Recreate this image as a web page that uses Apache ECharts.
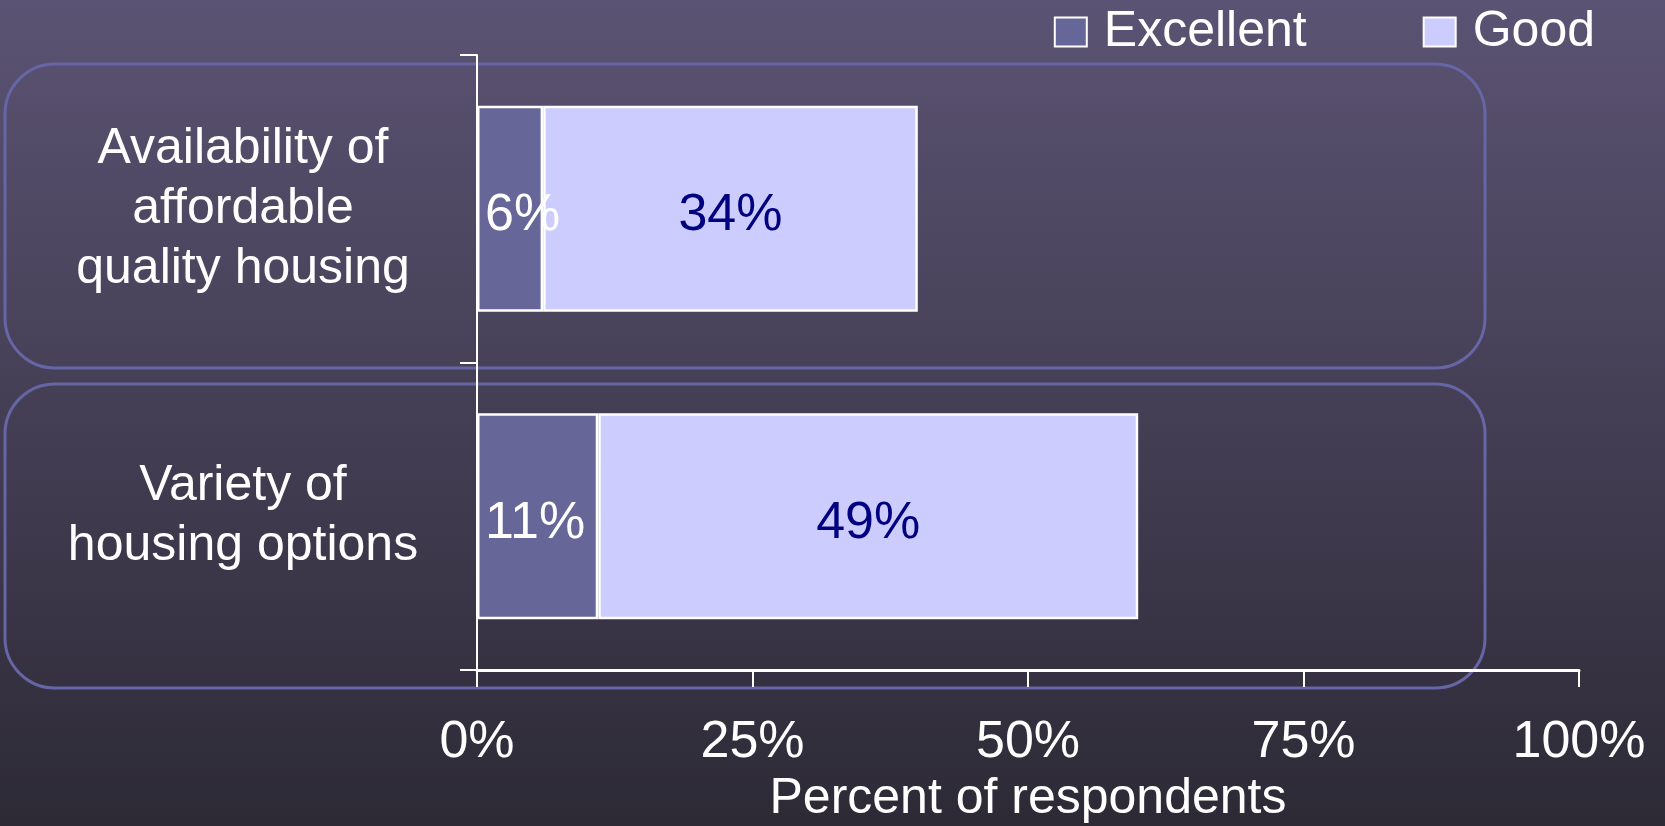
<!DOCTYPE html>
<html>
<head>
<meta charset="utf-8">
<script src="https://cdn.jsdelivr.net/npm/echarts@6/dist/echarts.min.js"></script>
<style>
html,body{margin:0;padding:0;width:1665px;height:826px;overflow:hidden;background:#46405a;}
#chart{width:1665px;height:826px;}
</style>
</head>
<body>
<div id="chart"></div>
<script>
const categories = ['Availability of\naffordable\nquality housing', 'Variety of\nhousing options'];
const seriesNames = ['Excellent', 'Good'];
const excellent = [6, 11];
const good = [34, 49];
const xTickValues = [0, 25, 50, 75, 100];

const FONT = "'Liberation Sans', Arial, sans-serif";
const chart = echarts.init(document.getElementById('chart'), null, {renderer: 'canvas'});

const option = {
  backgroundColor: {
    type: 'linear', x: 0, y: 0, x2: 0, y2: 1,
    colorStops: [
      {offset: 0, color: '#5b5373'},
      {offset: 1, color: '#2d2a36'}
    ]
  },
  animation: false,
  textStyle: {fontFamily: FONT},
  graphic: [
    {type: 'rect', z: -10, silent: true,
     shape: {x: 5, y: 64, width: 1480, height: 304, r: 50},
     style: {fill: 'none', stroke: '#6666a6', lineWidth: 3}},
    {type: 'rect', z: -10, silent: true,
     shape: {x: 5, y: 384, width: 1480, height: 304, r: 50},
     style: {fill: 'none', stroke: '#6666a6', lineWidth: 3}}
  ],
  legend: {
    data: seriesNames,
    right: 70,
    top: 3,
    padding: 0,
    itemWidth: 32,
    itemHeight: 29,
    itemGap: 116,
    icon: 'rect',
    itemStyle: {borderColor: '#ffffff', borderWidth: 2},
    textStyle: {color: '#ffffff', fontSize: 50, fontFamily: FONT, padding: [8, 0, 0, 12], lineHeight: 50}
  },
  grid: {left: 477, right: 86, top: 55, bottom: 156, containLabel: false, outerBoundsMode: 'none'},
  xAxis: {
    type: 'value',
    min: 0, max: 100, interval: 25,
    splitLine: {show: false},
    axisLine: {show: true, lineStyle: {color: '#ffffff', width: 3}},
    axisTick: {show: true, length: 17, lineStyle: {color: '#ffffff', width: 2}},
    axisLabel: {
      color: '#ffffff', fontSize: 52, fontFamily: FONT, margin: 47,
      formatter: function (v) { return xTickValues.indexOf(v) >= 0 ? v + '%' : ''; }
    },
    name: 'Percent of respondents',
    nameLocation: 'middle',
    nameGap: 104,
    nameTextStyle: {color: '#ffffff', fontSize: 50, fontFamily: FONT}
  },
  yAxis: {
    type: 'category',
    data: categories,
    inverse: true,
    axisLine: {show: true, lineStyle: {color: '#ffffff', width: 2}},
    axisTick: {show: true, length: 17, lineStyle: {color: '#ffffff', width: 2}},
    axisLabel: {
      color: '#ffffff', fontSize: 50, fontFamily: FONT, lineHeight: 60,
      align: 'center', margin: 234, padding: [17, 0, 0, 0]
    }
  },
  series: [
    {
      name: seriesNames[0], type: 'bar', stack: 'total',
      data: excellent,
      barCategoryGap: '33%',
      itemStyle: {color: '#666699', borderColor: '#ffffff', borderWidth: 2.5},
      label: {show: true, position: 'insideLeft', distance: 8, offset: [0, 7], formatter: '{c}%', color: '#ffffff', fontSize: 52, fontFamily: FONT}
    },
    {
      name: seriesNames[1], type: 'bar', stack: 'total',
      data: good,
      barCategoryGap: '33%',
      itemStyle: {color: '#ccccff', borderColor: '#ffffff', borderWidth: 2.5},
      label: {show: true, position: 'inside', offset: [0, 7], formatter: '{c}%', color: '#000080', fontSize: 52, fontFamily: FONT}
    }
  ]
};
chart.setOption(option);
</script>
</body>
</html>
